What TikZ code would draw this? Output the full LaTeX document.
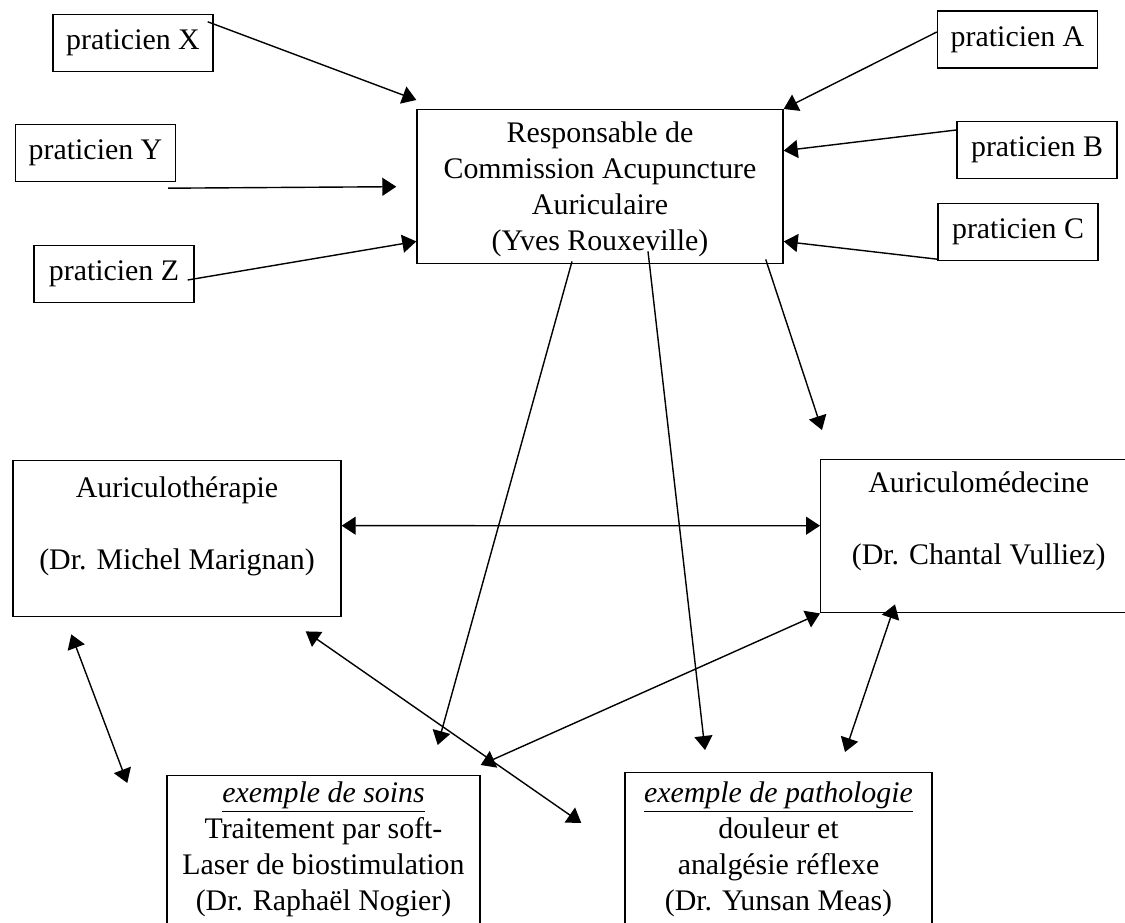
\documentclass[tikz,border=0pt]{standalone}
\usepackage{fontspec}
\setmainfont{Liberation Serif}
\usetikzlibrary{arrows.meta}

\tikzset{
  prat/.style={draw, minimum width=3.2cm, minimum height=1.14cm, inner sep=0pt},
  bigbox/.style={draw, align=center, inner sep=0pt, anchor=north},
}

\begin{document}
\begin{tikzpicture}[line width=0.8pt,>={Triangle[length=0.28cm,width=0.36cm]},
    every node/.style={font=\fontsize{17}{20.5}\selectfont}]
  \useasboundingbox (0,0) rectangle (22.5,18.44);
  \clip (0,0) rectangle (22.5,18.44);

  % commission (text height/depth counted from the last baseline)
  \node[bigbox, minimum width=7.32cm, text height=2.82cm, text depth=0.26cm] (resp) at (12.0,16.26)
    {Responsable de\\Commission Acupuncture\\Auriculaire\\(Yves Rouxeville)};

  % praticiens
  \foreach \n/\x/\y in {X/2.66/17.58, Y/1.91/15.38, Z/2.28/12.96,
                        A/20.35/17.65, B/20.74/15.44, C/20.36/13.8}
    \node[prat] (p\n) at (\x,\y) {praticien \n};

  % the two branches
  \node[bigbox, minimum width=6.56cm, text height=2.18cm, text depth=0.94cm] (therapie) at (3.54,9.24)
    {Auriculoth\'erapie\\[20.5pt](Dr. Michel Marignan)};
  \node[bigbox, anchor=north west, minimum width=6.32cm, text height=2.1cm, text depth=0.96cm] (medecine) at (16.4,9.26)
    {Auriculom\'edecine\\[20.5pt](Dr. Chantal Vulliez)};

  % examples
  \node[bigbox, minimum width=6.26cm, text height=2.7cm, text depth=1cm] (soins) at (6.47,2.94)
    {\underline{\textit{exemple de soins}}\\Traitement par soft-\\Laser de biostimulation\\(Dr. Rapha\"el Nogier)};
  \node[bigbox, minimum width=6.14cm, text height=2.76cm, text depth=1cm] (patho) at (15.57,3.0)
    {\underline{\textit{exemple de pathologie}}\\douleur et\\analg\'esie r\'eflexe\\(Dr. Yunsan Meas)};

  % praticiens -> commission
  \draw[->] ([xshift=-0.12cm,yshift=-0.16cm]pX.north east) -- ([yshift=0.18cm]resp.north west);
  \draw[->] ([xshift=-0.16cm,yshift=-0.12cm]pY.south east) -- ([xshift=-0.4cm]resp.west);
  \draw[->] ([xshift=-0.14cm,yshift=-0.12cm]pZ.east) -- ([yshift=0.46cm]resp.south west);
  \draw[->] ([yshift=0.15cm]pA.west) -- (resp.north east);
  \draw[->] ([yshift=0.4cm]pB.west) -- ([yshift=0.72cm]resp.east);
  \draw[->] ([yshift=0.04cm]pC.south west) -- ([yshift=0.46cm]resp.south east);

  % commission -> below
  \draw[->] ([xshift=-0.36cm,yshift=0.1cm]resp.south east) -- ([xshift=0.04cm,yshift=0.58cm]medecine.north west);
  \draw[->] ([xshift=-0.56cm,yshift=0.06cm]resp.south) -- ([xshift=-0.86cm,yshift=0.6cm]soins.north east);
  \draw[->] ([xshift=0.96cm,yshift=0.26cm]resp.south) -- ([xshift=-1.47cm,yshift=0.44cm]patho.north);

  % links between branches and examples
  \draw[<->] ([yshift=0.26cm]therapie.east) -- ([yshift=0.21cm]medecine.west);
  \draw[<->] ([xshift=1.18cm,yshift=-0.34cm]therapie.south west) -- ([xshift=-0.78cm,yshift=-0.16cm]soins.north west);
  \draw[<->] ([xshift=-0.72cm,yshift=-0.28cm]therapie.south east) -- ([xshift=-0.86cm,yshift=-1.02cm]patho.north west);
  \draw[<->] ([yshift=0.2cm]soins.north east) -- (medecine.south west);
  \draw[<->] ([xshift=1.5cm,yshift=0.18cm]medecine.south west) -- ([xshift=1.33cm,yshift=0.4cm]patho.north);
\end{tikzpicture}
\end{document}
